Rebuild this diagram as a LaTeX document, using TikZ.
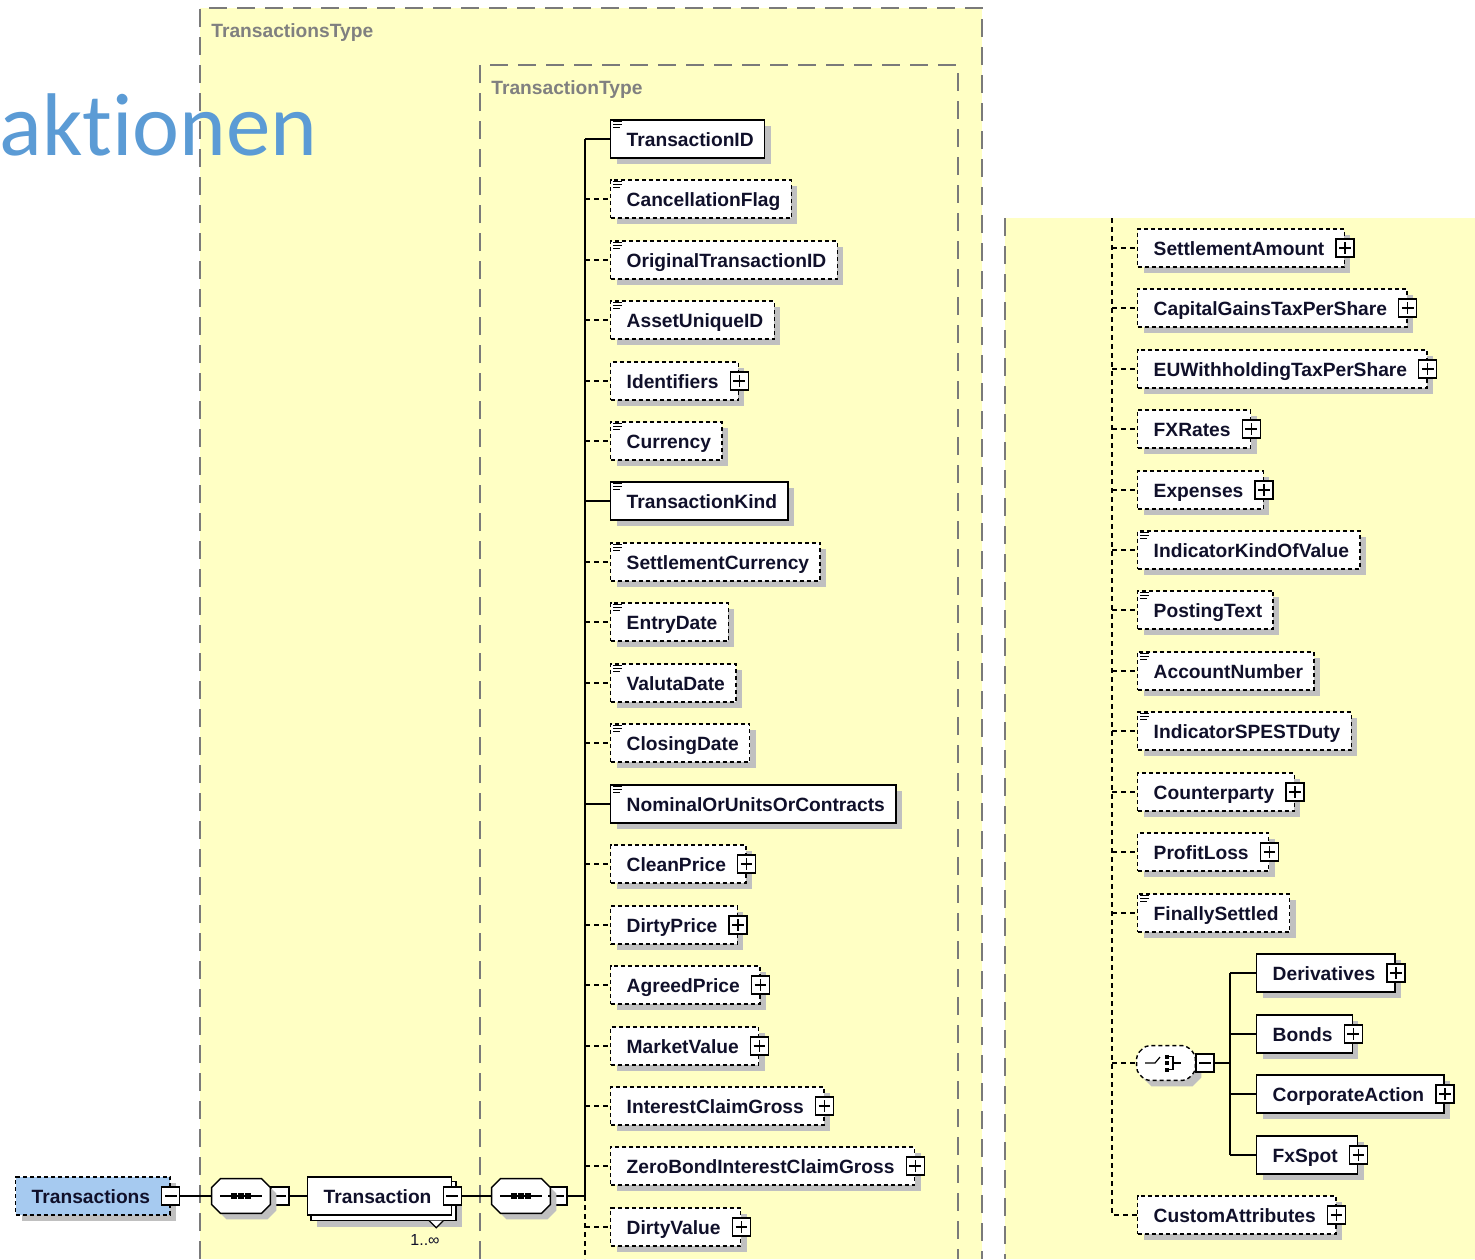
\documentclass[tikz,border=0pt]{standalone}
\usepackage{fontspec}
\setmainfont{Liberation Sans}
\newfontfamily\carlito[Ligatures=NoCommon]{Carlito}
\usetikzlibrary{shadows}
\pgfdeclarelayer{bgl}
\pgfdeclarelayer{midl}
\pgfsetlayers{bgl,midl,main}
\definecolor{yel}{HTML}{FFFFC4}
\definecolor{shadowc}{HTML}{C0C0C0}
\definecolor{bluec}{HTML}{A6CAF0}
\definecolor{titlec}{HTML}{5B9BD5}
\definecolor{lblc}{HTML}{808080}
\definecolor{txtc}{HTML}{10102A}
\definecolor{borderc}{HTML}{7A7A7A}
\newcommand\elfont{\bfseries\fontsize{9.6}{11}\selectfont}
\newcommand\tx[1]{\kern2.5pt#1}
\newcommand\txp[1]{\kern2.5pt#1\kern4.5pt}
\newcommand\eqi[1]{\draw[line width=0.65pt, solid] ([shift={(3,2.5)}]#1.north west) -- ++(9,0) ([shift={(3,5.5)}]#1.north west) -- ++(9,0) ([shift={(3,8.5)}]#1.north west) -- ++(7,0);}
\newcommand\octa[2]{\draw[#2] ([yshift=-4.5pt]#1.north west) -- ([xshift=4.5pt]#1.north west) -- ([xshift=-4.5pt]#1.north east) -- ([yshift=-4.5pt]#1.north east) -- ([yshift=4.5pt]#1.south east) -- ([xshift=-4.5pt]#1.south east) -- ([xshift=4.5pt]#1.south west) -- ([yshift=4.5pt]#1.south west) -- cycle;}
\begin{document}
\begin{tikzpicture}[x=0.5pt,y=-0.5pt,
 bx/.style={draw=black, line width=0.7pt, fill=white, anchor=west, minimum height=19pt, inner xsep=5.5pt, inner ysep=0pt, text height=9pt, text depth=2pt, font=\elfont, text=txtc},
 shd/.style={drop shadow={shadow xshift=3pt, shadow yshift=-3pt, fill=shadowc, opacity=1}},
 req/.style={bx, shd},
 opt/.style={bx, shd, dash pattern=on 2pt off 1.5pt},
 plusb/.style={draw=black, fill=white, line width=0.65pt, minimum size=9pt, inner sep=0pt, solid,
   path picture={\draw[line width=0.65pt] ([xshift=1.6pt]path picture bounding box.west) -- ([xshift=-1.6pt]path picture bounding box.east) ([yshift=-1.6pt]path picture bounding box.north) -- ([yshift=1.6pt]path picture bounding box.south);}},
 minusb/.style={draw=black, fill=white, line width=0.65pt, minimum size=9pt, inner sep=0pt, solid,
   path picture={\draw[line width=0.65pt] ([xshift=1.6pt]path picture bounding box.west) -- ([xshift=-1.6pt]path picture bounding box.east);}},
 conn/.style={line width=0.7pt, draw=black},
 dconn/.style={conn, dash pattern=on 2.5pt off 2pt},
 border/.style={draw=borderc, line width=1pt, dash pattern=on 9pt off 5pt},
 lbl/.style={font=\bfseries\fontsize{9.6}{11}\selectfont, text=lblc, inner sep=0pt, anchor=base west},
 octn/.style={minimum width=29pt, minimum height=17pt, inner sep=0pt}
]
\useasboundingbox (0,0) rectangle (1475,1259);
% backgrounds
\begin{pgfonlayer}{bgl}
\fill[yel] (200,8) rectangle (982,1259);
\fill[yel] (1005,218) rectangle (1475,1259);
\draw[border] (200,1259) -- (200,8) -- (982,8) -- (982,1259);
\draw[border] (480,1259) -- (480,65) -- (958,65) -- (958,1259);
\draw[border] (1005,218) -- (1005,1259);
\end{pgfonlayer}
\node[lbl] (lbl1) at (211,37) {TransactionsType};
\node[lbl] (lbl2) at (491,94) {TransactionType};

% left column elements
\node[req] (e1) at (610,139) {\tx{TransactionID}};
\node[opt] (e2) at (610,199) {\tx{CancellationFlag}};
\node[opt] (e3) at (610,260) {\tx{OriginalTransactionID}};
\node[opt] (e4) at (610,320) {\tx{AssetUniqueID}};
\node[opt] (e5) at (610,381) {\txp{Identifiers}};
\node[opt] (e6) at (610,441) {\tx{Currency}};
\node[req] (e7) at (610,501) {\tx{TransactionKind}};
\node[opt] (e8) at (610,562) {\tx{SettlementCurrency}};
\node[opt] (e9) at (610,622) {\tx{EntryDate}};
\node[opt] (e10) at (610,683) {\tx{ValutaDate}};
\node[opt] (e11) at (610,743) {\tx{ClosingDate}};
\node[req] (e12) at (610,804) {\tx{NominalOrUnitsOrContracts}};
\node[opt] (e13) at (610,864) {\txp{CleanPrice}};
\node[opt] (e14) at (610,925) {\txp{DirtyPrice}};
\node[opt] (e15) at (610,985) {\txp{AgreedPrice}};
\node[opt] (e16) at (610,1046) {\txp{MarketValue}};
\node[opt] (e17) at (610,1106) {\txp{InterestClaimGross}};
\node[opt] (e18) at (610,1166) {\txp{ZeroBondInterestClaimGross}};
\node[opt] (e19) at (610,1227) {\txp{DirtyValue}};
\foreach \i in {1,2,3,4,6,7,8,9,10,11,12} {\eqi{e\i}}
\foreach \i in {5,13,14,15,16,17,18,19} {\node[plusb] (e\i p) at (e\i.east) {};}

% right column elements
\node[opt] (r1) at (1137,248) {\txp{SettlementAmount}};
\node[opt] (r2) at (1137,308) {\txp{CapitalGainsTaxPerShare}};
\node[opt] (r3) at (1137,369) {\txp{EUWithholdingTaxPerShare}};
\node[opt] (r4) at (1137,429) {\txp{FXRates}};
\node[opt] (r5) at (1137,490) {\txp{Expenses}};
\node[opt] (r6) at (1137,550) {\tx{IndicatorKindOfValue}};
\node[opt] (r7) at (1137,610) {\tx{PostingText}};
\node[opt] (r8) at (1137,671) {\tx{AccountNumber}};
\node[opt] (r9) at (1137,731) {\tx{IndicatorSPESTDuty}};
\node[opt] (r10) at (1137,792) {\txp{Counterparty}};
\node[opt] (r11) at (1137,852) {\txp{ProfitLoss}};
\node[opt] (r12) at (1137,913) {\tx{FinallySettled}};
\node[opt] (r13) at (1137,1215) {\txp{CustomAttributes}};
\node[req] (c1) at (1256,973) {\txp{Derivatives}};
\node[req] (c2) at (1256,1034) {\txp{Bonds}};
\node[req] (c3) at (1256,1094) {\txp{CorporateAction}};
\node[req] (c4) at (1256,1155) {\txp{FxSpot}};
\foreach \i in {6,7,8,9,12} {\eqi{r\i}}
\foreach \i in {1,2,3,4,5,10,11,13} {\node[plusb] (r\i p) at (r\i.east) {};}
\foreach \i in {1,2,3,4} {\node[plusb] (c\i p) at (c\i.east) {};}

% choice
\node[octn] (ch) at (1166,1063) {};
\begin{scope}[transform canvas={shift={(3pt,-3pt)}}]
\octa{ch}{fill=shadowc, draw=none}
\end{scope}
\octa{ch}{fill=white, draw=black, line width=0.7pt, dash pattern=on 2pt off 1.5pt, rounded corners=2pt}
\draw[line width=0.6pt] ([shift={(-21,0)}]ch.center) -- ([shift={(-11,0)}]ch.center) -- ([shift={(-6,-6)}]ch.center);
\fill ([shift={(-1.5,-8.5)}]ch.center) rectangle ([shift={(2.5,-4.5)}]ch.center);
\fill ([shift={(-1.5,-2)}]ch.center) rectangle ([shift={(2.5,2)}]ch.center);
\fill ([shift={(-1.5,4.5)}]ch.center) rectangle ([shift={(2.5,8.5)}]ch.center);
\draw[line width=0.6pt] ([shift={(2.5,-6.5)}]ch.center) -- ([shift={(7,-6.5)}]ch.center) -- ([shift={(7,6.5)}]ch.center) -- ([shift={(2.5,6.5)}]ch.center);
\draw[line width=0.6pt] ([shift={(7,0)}]ch.center) -- ([shift={(15,0)}]ch.center);
\node[minusb] (chm) at (1205,1063) {};
\coordinate (chv) at (1230,1063);

% bottom row
\node[opt, fill=bluec] (tr) at (15,1196) {\txp{Transactions}};
\node[minusb] (trm) at (tr.east) {};
\node[octn] (s1) at (241,1196) {};
\node[minusb] (s1m) at (280,1196) {};
\node[bx] (T) at (307,1196) {\txp{Transaction}};
\begin{pgfonlayer}{midl}
\fill[shadowc] ([shift={(10,11)}]T.north west) rectangle ([shift={(10,11)}]T.south east);
\draw[line width=0.7pt, fill=white] ([shift={(4,5)}]T.north west) rectangle ([shift={(4,5)}]T.south east);
\end{pgfonlayer}
\coordinate (Tbse) at ([shift={(4,5)}]T.south east);
\node[minusb] (Tm) at (T.east) {};
\draw[line width=0.6pt, fill=white] ([shift={(-27,0)}]Tbse) -- ([shift={(-20,7)}]Tbse) -- ([shift={(-13,0)}]Tbse);
\node[font=\fontsize{8}{9}\selectfont, text=txtc, inner sep=0pt] (mult) at (425,1240) {1..∞};
\node[octn] (s2) at (521,1196) {};
\node[minusb] (s2m) at (558,1196) {};
\foreach \s in {s1,s2} {
  \begin{scope}[transform canvas={shift={(3pt,-3pt)}}]
  \octa{\s}{fill=shadowc, draw=none}
  \end{scope}
  \octa{\s}{fill=white, draw=black, line width=0.7pt}
  \draw[line width=0.6pt] ([xshift=-10.5pt]\s.center) -- ([xshift=10.5pt]\s.center);
  \foreach \d in {-3.5,0,3.5} {\fill ([xshift=\d pt-1.3pt, yshift=-1.3pt]\s.center) rectangle ([xshift=\d pt+1.3pt, yshift=1.3pt]\s.center);}
}
\coordinate (tk) at (585,139);
\coordinate (seqpt) at (585,1196);
\coordinate (tkb) at (585,1259);
\coordinate (rt) at (1112,218);

% connectors
\draw[conn] (trm.east) -- (s1.west);
\draw[conn] (s1.east) -- (s1m.west);
\draw[conn] (s1m.east) -- (T.west);
\draw[conn] (Tm.east) -- (s2.west);
\draw[conn] (s2.east) -- (s2m.west);
\draw[conn] (s2m.east) -- (seqpt);
\draw[conn] (tk) -- (seqpt);
\draw[dconn] (seqpt) -- (tkb);
\foreach \i in {1,7,12} {\draw[conn] (e\i.west -| tk) -- (e\i.west);}
\foreach \i in {2,3,4,5,6,8,9,10,11,13,14,15,16,17,18,19} {\draw[dconn] (e\i.west -| tk) -- (e\i.west);}
\draw[dconn] (rt) -- (rt |- r13.west) -- (r13.west);
\foreach \i in {1,2,3,4,5,6,7,8,9,10,11,12} {\draw[dconn] (r\i.west -| rt) -- (r\i.west);}
\draw[dconn] (ch.west -| rt) -- (ch.west);
\draw[conn] (ch.east) -- (chm.west);
\draw[conn] (chm.east) -- (chv);
\draw[conn] (chv |- c1.west) -- (chv |- c4.west);
\foreach \i in {1,2,3,4} {\draw[conn] (chv |- c\i.west) -- (c\i.west);}

% title
\node[anchor=base east, inner sep=0pt, font=\carlito\fontsize{44.5}{50}\selectfont, text=titlec] (title) at (318,155) {aktionen};
\end{tikzpicture}
\end{document}
